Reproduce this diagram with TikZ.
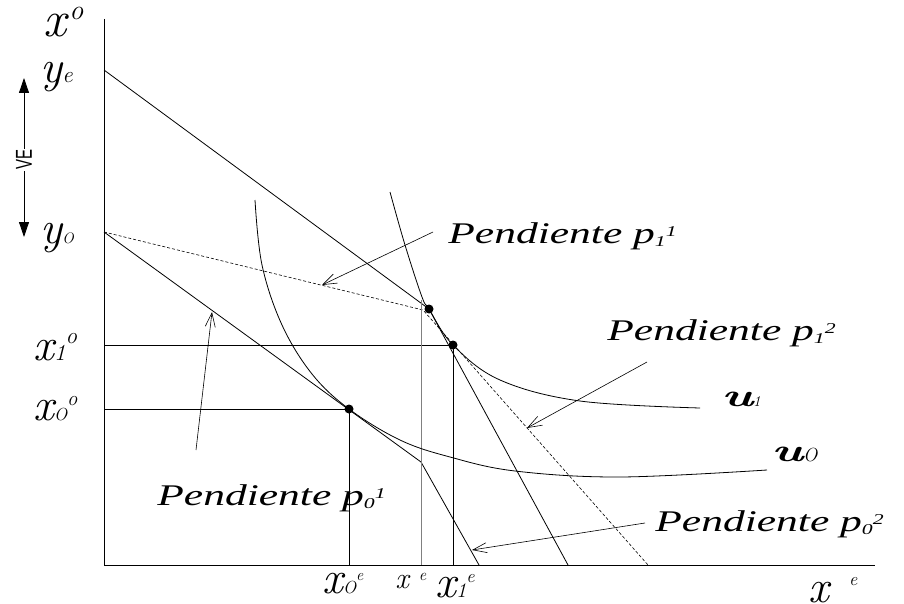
\documentclass[tikz,border=0pt]{standalone}
\usepackage{fontspec}
\usetikzlibrary{arrows.meta, positioning}
\newfontfamily\pfont[FakeStretch=1.45]{Liberation Serif}
\newfontfamily\vefont[FakeStretch=0.65]{Liberation Sans}
\makeatletter
\newcommand{\rel}[1]{\fontsize{\fpeval{#1*\f@size}}{\fpeval{#1*\f@size}}\selectfont}
\makeatother
% slope label: Pendiente p_sub^sup
\newcommand{\pend}[2]{Pendiente p{\fontsize{15}{15}\selectfont\raisebox{-3pt}{#1}\raisebox{7pt}{#2}}}
% axis symbol: base, sub, sup, raise of sup
\newcommand{\asym}[4]{#1{\rel{0.5}#2}\raisebox{#4}{\rel{0.5}#3}}

\begin{document}
\begin{tikzpicture}[x=1pt, y=-1pt, line width=0.8pt,
    dot/.style={circle, fill, inner sep=0pt, minimum size=9pt},
    sym/.style={font=\fontsize{46}{46}\selectfont\itshape, inner sep=0pt, anchor=base west},
    pend/.style={font=\fontsize{30}{30}\pfont\itshape\selectfont, inner sep=0pt, anchor=base west},
    ulab/.style={font=\fontsize{32}{32}\selectfont\bfseries\itshape, inner sep=0pt, anchor=base west},
    ptr/.style={line width=0.6pt, -{Straight Barb[length=14pt, width=10pt]}}]
    \useasboundingbox (0,0) rectangle (904,604);

    % axes
    \coordinate (O) at (104,565);
    \coordinate (ytop) at (104,19);
    \coordinate (xend) at (875,565);
    \draw (ytop) -- (O) -- (xend);

    % points on the vertical axis and the budget lines
    \coordinate (ye) at (104,70);
    \coordinate (yo) at (104,232);
    \coordinate (k0) at (421,462);
    \coordinate (b0) at (479,565);
    \coordinate (k1) at (423,310);
    \coordinate (b1) at (648,565);
    \coordinate (be) at (568,565);

    % tangency points
    \node[dot] (d0) at (349,409) {};
    \node[dot] (d1) at (429,309) {};
    \node[dot] (d2) at (453,345) {};

    \draw (ye) -- (d1.center) -- (be);
    \draw (yo) -- (k0) -- (b0);
    \draw[dash pattern=on 3pt off 2pt, line width=0.6pt] (yo) -- (k1) -- (b1);

    % projections on the axes
    \coordinate (h0) at (104,409);
    \coordinate (h2) at (104,345);
    \coordinate (f0) at (349,565);
    \coordinate (f2) at (453,565);
    \coordinate (fb) at (421,565);
    \coordinate (fbtop) at (421,300);
    \draw (h0) -- (d0.center) -- (f0);
    \draw (h2) -- (d2.center) -- (f2);
    \draw[gray] (fbtop) -- (fb);

    % indifference curves
    \draw plot[smooth, tension=0.6] coordinates {(255,200) (262,265) (282,325) (312,374) (349,409) (400,440) (450,457) (515,471) (620,477) (767,470)};
    \draw plot[smooth, tension=0.6] coordinates {(390,192) (405,245) (422,297) (429,309) (453,345) (500,380) (580,401) (700,408)};

    % axis labels
    \node[sym, font=\fontsize{51}{51}\selectfont\itshape] (xo) at (43,37) {x\hspace{3pt}\raisebox{17pt}{\rel{0.55}o}};
    \node[sym] (lye) at (40,83) {\asym{y}{e}{}{0pt}};
    \node[sym] (lyo) at (40,243) {y{\rel{0.33}O}};
    \node[sym] (lx1o) at (33,360) {\asym{x}{1}{o}{17pt}};
    \node[sym] (lx0o) at (33,420) {x{\rel{0.38}O}\raisebox{15pt}{\rel{0.45}o}};
    \node[sym] (lx0e) at (322,593) {x{\rel{0.38}O}\raisebox{13pt}{\rel{0.35}e}};
    \node[sym, font=\fontsize{30}{30}\selectfont\itshape] (lxbe) at (395,588) {x\hspace{10pt}\raisebox{8pt}{\rel{0.55}e}};
    \node[sym] (lx1e) at (435,597) {x{\rel{0.45}1}\raisebox{15pt}{\rel{0.4}e}};
    \node[sym] (lxe) at (808,602) {x\hspace{20pt}\raisebox{17pt}{\rel{0.4}e}};

    % VE
    \node[rotate=90, font=\fontsize{23}{23}\vefont\selectfont, inner sep=1pt] (ve) at (24,160) {VE};
    \coordinate (vetop) at (24,78);
    \coordinate (vebot) at (24,237);
    \draw[-{Triangle[length=15pt, width=10pt]}] (ve) -- (vetop);
    \draw[-{Triangle[length=15pt, width=10pt]}] (ve) -- (vebot);

    % curve labels
    \node[ulab] (lu1) at (721,406) {\scalebox{1.6}[1]{u}{\fontsize{15}{15}\selectfont\mdseries 1}};
    \node[ulab] (lu0) at (771,461) {\scalebox{1.6}[1]{u}{\fontsize{19}{19}\selectfont\mdseries O}};

    % slope labels and pointers
    \node[pend] (p11) at (448,243) {\pend{1}{1}};
    \node[pend] (p12) at (607,340) {\pend{1}{2}};
    \node[pend] (p01) at (157,505) {\pend{0}{1}};
    \node[pend] (p02) at (655,531) {\pend{0}{2}};
    \coordinate (s11) at (433,232);
    \coordinate (a11) at (322,285);
    \coordinate (s12) at (647,362);
    \coordinate (a12) at (527,428);
    \coordinate (s02) at (645,523);
    \coordinate (a02) at (472,550);
    \coordinate (s01) at (196,450);
    \coordinate (a01) at (212,312);
    \draw[ptr] (s11) -- (a11);
    \draw[ptr] (s12) -- (a12);
    \draw[ptr] (s01) -- (a01);
    \draw[ptr] (s02) -- (a02);
\end{tikzpicture}
\end{document}
